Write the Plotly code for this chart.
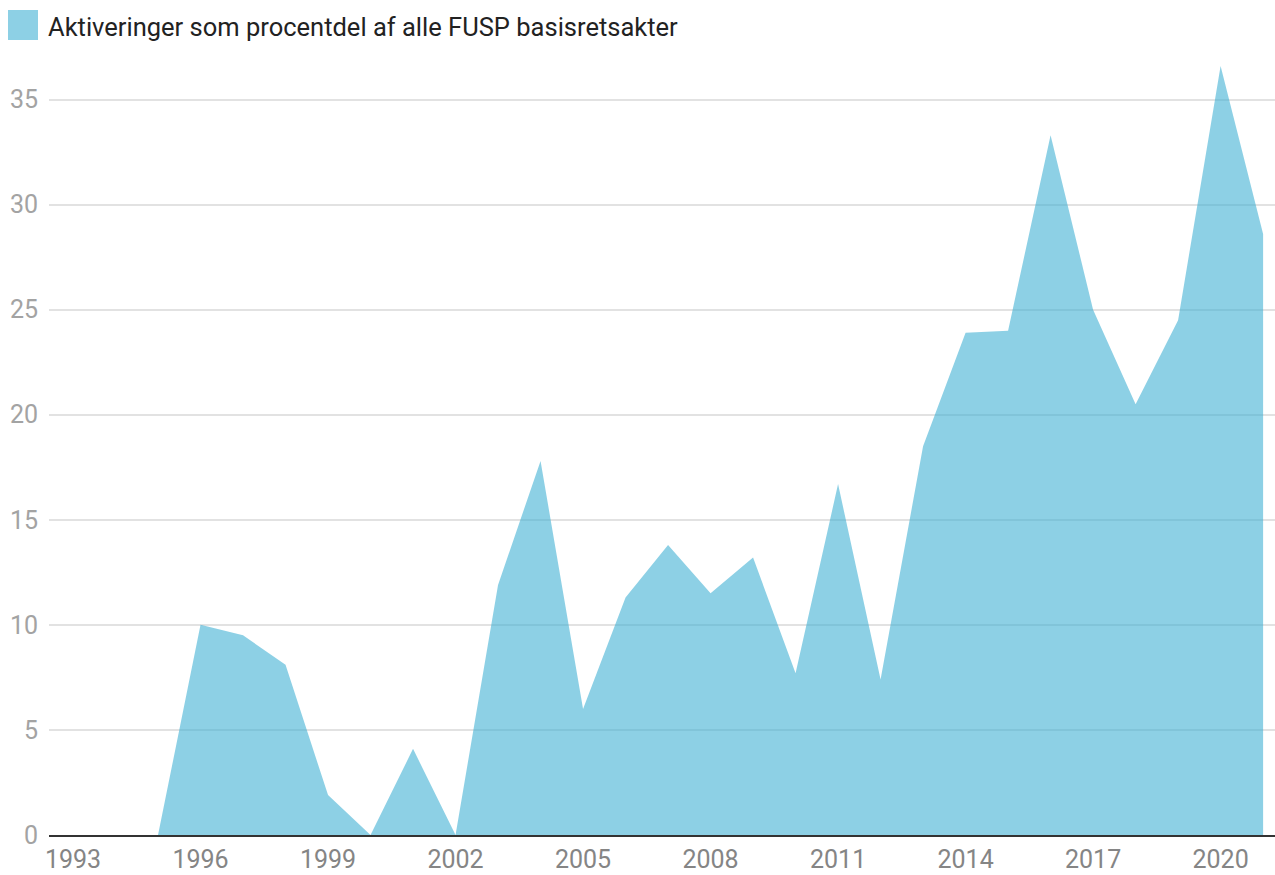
import plotly.graph_objects as go

years = list(range(1993, 2022))
values = [0, 0, 0, 10.0, 9.5, 8.1, 1.9, 0, 4.1, 0, 11.9, 17.8, 6.0, 11.3, 13.8,
          11.5, 13.2, 7.7, 16.7, 7.4, 18.5, 23.9, 24.0, 33.3, 25.0, 20.5, 24.5,
          36.6, 28.6]
series_name = "Aktiveringer som procentdel af alle FUSP basisretsakter"
y_ticks = [0, 5, 10, 15, 20, 25, 30, 35]

fig = go.Figure()
fig.add_trace(go.Scatter(
    x=years, y=values, mode="lines", fill="tozeroy",
    line=dict(width=0, color="rgba(65,177,212,0.6)"),
    fillcolor="rgba(65,177,212,0.6)",
    name=series_name, showlegend=False, hoverinfo="x+y",
))

fig.update_layout(
    width=1275, height=875,
    margin=dict(l=49, r=0, t=47, b=40),
    paper_bgcolor="white", plot_bgcolor="white",
    font=dict(family="Roboto", size=25),
    xaxis=dict(
        range=[1992.435, 2021.28], tickmode="linear", tick0=1993, dtick=3,
        showgrid=False, zeroline=False, showline=True, linecolor="#333333",
        linewidth=2, tickfont=dict(color="#858585", size=25), automargin=False,
        ticks="outside", ticklen=1, tickcolor="rgba(0,0,0,0)",
    ),
    yaxis=dict(
        range=[0, 37.5], tickvals=y_ticks, showgrid=True, gridcolor="#e2e2e2",
        gridwidth=2, zeroline=False, showline=False, automargin=False,
        tickfont=dict(color="#a3a3a3", size=25),
        ticks="outside", ticklen=5, tickcolor="rgba(0,0,0,0)",
    ),
    shapes=[dict(type="rect", xref="paper", yref="paper",
                 x0=-41 / 1226, x1=-11 / 1226, y0=(835 - 40) / 788, y1=(835 - 10) / 788,
                 fillcolor="#8dd0e5", line=dict(width=0))],
    annotations=[dict(text=series_name, xref="paper", yref="paper",
                      x=-3 / 1226, y=(835 - 27) / 788, xanchor="left", yanchor="middle",
                      showarrow=False, font=dict(color="#222222", size=25.5, family="Roboto"))],
)

fig.write_html("out.html", config={"displayModeBar": False},
               post_script="document.body.style.margin='0';document.body.style.overflow='hidden';")
